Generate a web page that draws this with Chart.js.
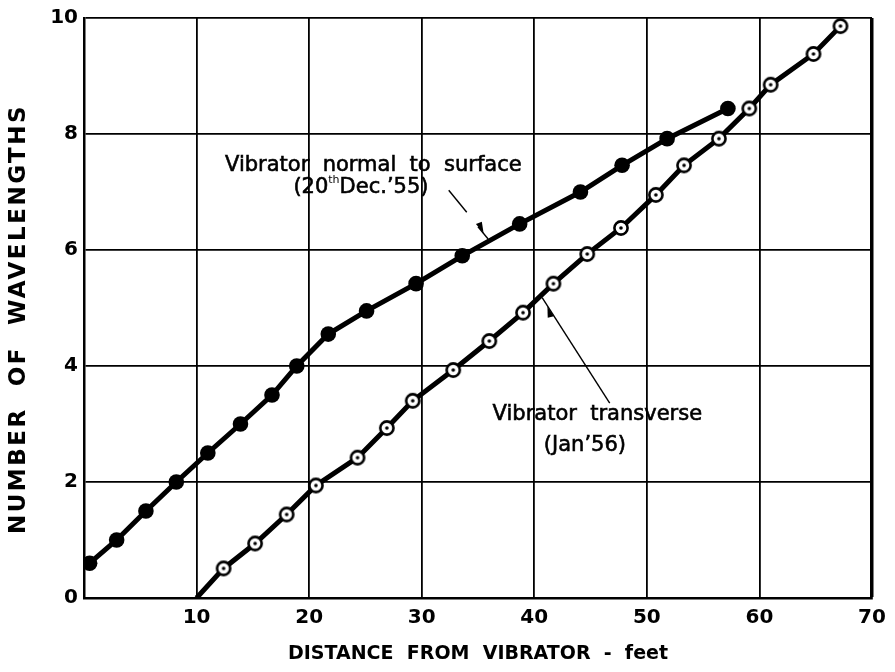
<!DOCTYPE html>
<html>
<head>
<meta charset="utf-8">
<title>Number of wavelengths against distance from vibrator</title>
<script src="https://cdn.jsdelivr.net/npm/chart.js@4.4.1/dist/chart.umd.min.js"></script>
<style>
  html, body { margin: 0; padding: 0; background: #fff; }
  #wrap { width: 895px; height: 672px; }
</style>
</head>
<body>
<div id="wrap"><canvas id="waveChart" width="895" height="672"></canvas></div>
<script>
// vibrator normal to surface (20th Dec. '55)
const normalDist = [0.5, 2.9, 5.5, 8.2, 11.0, 13.9, 16.7, 18.9, 21.7, 25.1, 29.5, 33.6, 38.7, 44.1, 47.8, 51.8, 57.2];
const normalWaves = [0.6, 1.0, 1.5, 2.0, 2.5, 3.0, 3.5, 4.0, 4.55, 4.95, 5.42, 5.9, 6.45, 7.0, 7.46, 7.92, 8.44];

// vibrator transverse (Jan '56) - line starts at 10 ft with no reading
const transDist = [10, 12.4, 15.2, 18.0, 20.6, 24.3, 26.9, 29.2, 32.8, 36.0, 39.0, 41.7, 44.7, 47.7, 50.8, 53.3, 56.4, 59.1, 61.0, 64.8, 67.2];
const transWaves = [0, 0.51, 0.94, 1.44, 1.94, 2.42, 2.93, 3.4, 3.93, 4.43, 4.92, 5.42, 5.93, 6.38, 6.95, 7.46, 7.92, 8.44, 8.85, 9.38, 9.86];

const xTickValues = [0, 10, 20, 30, 40, 50, 60, 70];
const yTickValues = [0, 2, 4, 6, 8, 10];

const xTitle = "DISTANCE  FROM  VIBRATOR  -  feet";
const yTitle = "NUMBER  OF  WAVELENGTHS";

const FONT = '"DejaVu Sans", sans-serif';

// open circle with a dot in the middle
function ringMarker() {
  const c = document.createElement("canvas");
  c.width = 18;
  c.height = 18;
  const g = c.getContext("2d");
  g.fillStyle = "#fff";
  g.strokeStyle = "#000";
  g.lineWidth = 2.6;
  g.beginPath();
  g.arc(9, 9, 6.6, 0, Math.PI * 2);
  g.fill();
  g.stroke();
  g.fillStyle = "#000";
  g.beginPath();
  g.arc(9, 9, 1.8, 0, Math.PI * 2);
  g.fill();
  return c;
}

const ring = ringMarker();

// thin pointer line with a small barb
function leader(ctx, pts, barb) {
  ctx.lineWidth = 1.4;
  ctx.beginPath();
  ctx.moveTo(pts[0].x, pts[0].y);
  ctx.lineTo(pts[1].x, pts[1].y);
  ctx.stroke();
  if (!barb) return;
  const dx = pts[1].x - pts[0].x, dy = pts[1].y - pts[0].y;
  const len = Math.hypot(dx, dy);
  const ux = dx / len, uy = dy / len;
  const nx = -uy * barb.side, ny = ux * barb.side;
  const p = barb.at;
  ctx.beginPath();
  ctx.moveTo(p.x - ux * 5, p.y - uy * 5);
  ctx.lineTo(p.x + ux * 7, p.y + uy * 7);
  ctx.lineTo(p.x - ux * 3 + nx * 6, p.y - uy * 3 + ny * 6);
  ctx.closePath();
  ctx.fill();
}

// slightly heavier text than the plain face
function heavyText(ctx, s, x, y) {
  ctx.fillText(s, x, y);
  ctx.strokeText(s, x, y);
}

const notes = {
  id: "notes",
  afterDatasetsDraw(chart) {
    const { ctx, scales } = chart;
    const P = (x, y) => ({ x: scales.x.getPixelForValue(x), y: scales.y.getPixelForValue(y) });
    ctx.save();
    ctx.fillStyle = "#000";
    ctx.strokeStyle = "#000";
    ctx.lineWidth = 0.6;
    ctx.textBaseline = "middle";
    ctx.textAlign = "center";
    ctx.font = "21px " + FONT;

    let p = P(25.7, 7.46);
    heavyText(ctx, "Vibrator  normal  to  surface", p.x, p.y);

    // "(20th Dec.'55)" with a raised "th"
    p = P(24.6, 7.08);
    const a = "(20", b = "th", c = "Dec.\u201955)";
    ctx.font = "21px " + FONT;
    const wa = ctx.measureText(a).width, wc = ctx.measureText(c).width;
    ctx.font = "11px " + FONT;
    const wb = ctx.measureText(b).width;
    let x0 = p.x - (wa + wb + wc) / 2;
    ctx.textAlign = "left";
    ctx.font = "21px " + FONT;
    heavyText(ctx, a, x0, p.y);
    ctx.font = "11px " + FONT;
    ctx.fillText(b, x0 + wa, p.y - 7);
    ctx.font = "21px " + FONT;
    heavyText(ctx, c, x0 + wa + wb, p.y);

    ctx.textAlign = "center";
    p = P(45.6, 3.17);
    heavyText(ctx, "Vibrator  transverse", p.x, p.y);
    p = P(44.5, 2.62);
    heavyText(ctx, "(Jan\u201956)", p.x, p.y);

    leader(ctx, [P(32.4, 7.03), P(34.0, 6.65)]);
    leader(ctx, [P(35.0, 6.40), P(35.9, 6.19)], { at: P(35.1, 6.38), side: -1 });
    leader(ctx, [P(46.7, 3.36), P(40.7, 5.18)], { at: P(41.5, 4.93), side: -1 });
    ctx.restore();
  }
};

const axisTitles = {
  id: "axisTitles",
  afterDraw(chart) {
    const { ctx, chartArea } = chart;
    ctx.save();
    ctx.fillStyle = "#000";
    ctx.textAlign = "center";
    ctx.textBaseline = "middle";
    ctx.font = "bold 19px " + FONT;
    ctx.letterSpacing = "0px";
    ctx.fillText(xTitle, (chartArea.left + chartArea.right) / 2, chartArea.bottom + 56);
    ctx.translate(19, (chartArea.top + chartArea.bottom) / 2 + 11);
    ctx.rotate(-Math.PI / 2);
    ctx.font = "bold 23px " + FONT;
    ctx.letterSpacing = "2.5px";
    ctx.fillText(yTitle, 0, 0);
    ctx.restore();
  }
};

const toPoints = (xs, ys) => xs.map((x, i) => ({ x: x, y: ys[i] }));

new Chart(document.getElementById("waveChart"), {
  type: "line",
  data: {
    datasets: [
      {
        label: "Vibrator normal to surface",
        data: toPoints(normalDist, normalWaves),
        borderColor: "#000",
        backgroundColor: "#000",
        borderWidth: 5,
        pointRadius: 7.8,
        pointBackgroundColor: "#000",
        pointBorderWidth: 0,
        tension: 0
      },
      {
        label: "Vibrator transverse",
        data: toPoints(transDist, transWaves),
        borderColor: "#000",
        borderWidth: 5,
        pointStyle: transDist.map((d, i) => (i === 0 ? false : ring)),
        pointRadius: transDist.map((d, i) => (i === 0 ? 0 : 9)),
        tension: 0
      }
    ]
  },
  options: {
    responsive: false,
    animation: false,
    layout: { padding: { left: 0, right: 23, top: 15, bottom: 0 } },
    plugins: {
      legend: { display: false },
      tooltip: { enabled: false }
    },
    scales: {
      x: {
        type: "linear",
        min: 0,
        max: 70,
        afterBuildTicks: (s) => { s.ticks = xTickValues.map((v) => ({ value: v })); },
        afterFit: (s) => { s.height = 74; },
        ticks: {
          color: "#000",
          padding: 8,
          font: { family: FONT, size: 20, weight: "bold" },
          callback: (v) => (v === 0 ? "" : String(v))
        },
        grid: {
          color: "#000",
          lineWidth: (c) => (c.tick && c.tick.value === 70 ? 3.5 : 1.8),
          drawTicks: false
        },
        border: { color: "#000", width: 2.5 }
      },
      y: {
        type: "linear",
        min: 0,
        max: 10,
        afterBuildTicks: (s) => { s.ticks = yTickValues.map((v) => ({ value: v })); },
        afterFit: (s) => { s.width = 84; },
        ticks: {
          color: "#000",
          padding: 6,
          font: { family: FONT, size: 20, weight: "bold" }
        },
        grid: {
          color: "#000",
          lineWidth: 1.8,
          drawTicks: false
        },
        border: { color: "#000", width: 2.5 }
      }
    }
  },
  plugins: [notes, axisTitles]
});
</script>
</body>
</html>
